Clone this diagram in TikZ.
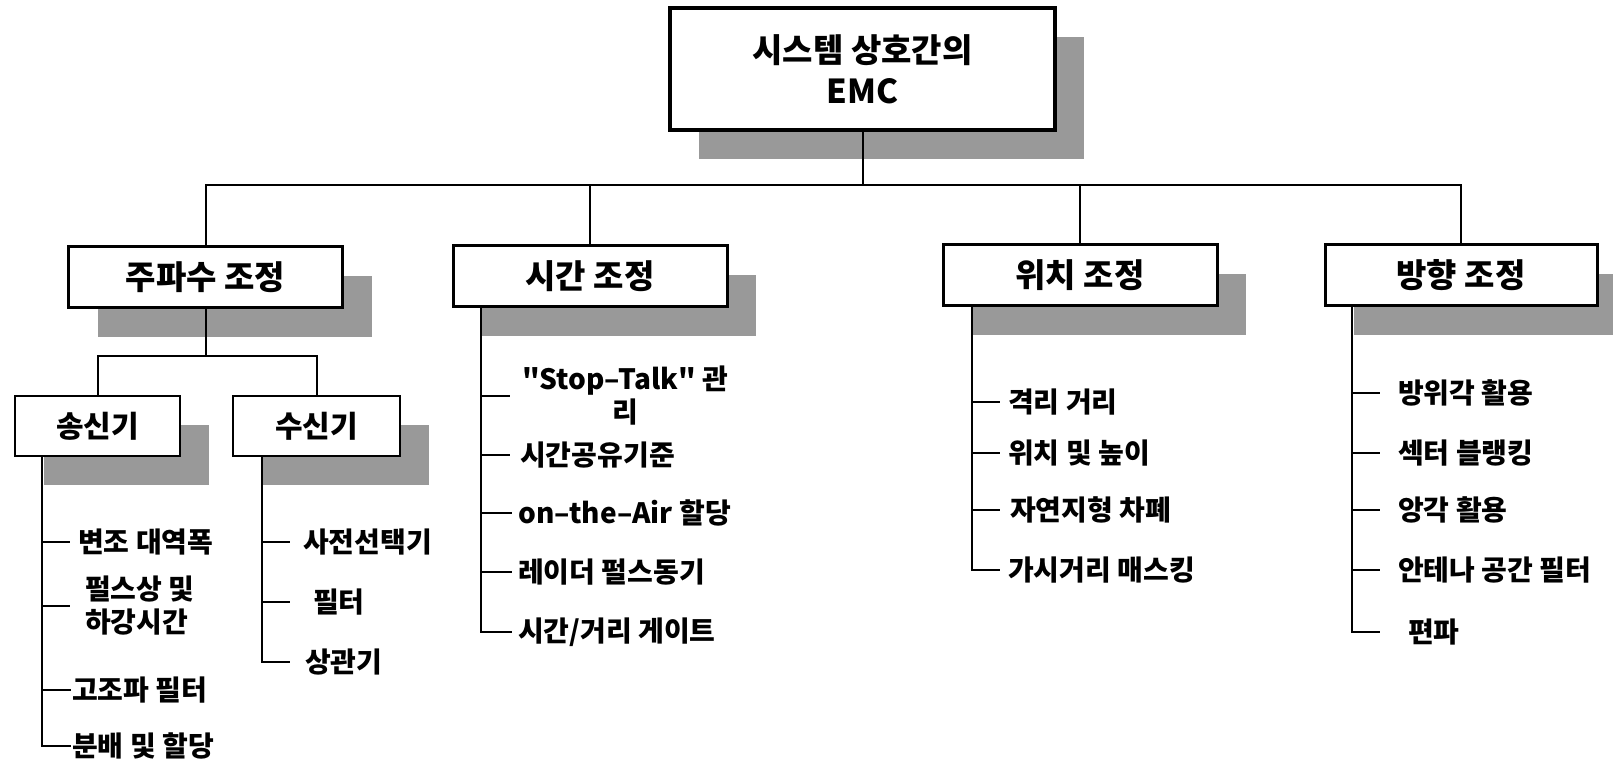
\documentclass[tikz,border=0pt]{standalone}
\usepackage{fontspec}
\setmainfont{Noto Sans CJK KR}[Ligatures=TeXOff]
\usetikzlibrary{shadows}
\definecolor{shadowgray}{gray}{0.6}
\begin{document}
\begin{tikzpicture}[x=1pt,y=-1pt,
  box/.style={draw=black, fill=white, line width=3pt, minimum width=274pt, minimum height=61pt,
    inner sep=0pt, font=\bfseries\fontsize{33}{38}\selectfont,
    drop shadow={shadow xshift=29pt,shadow yshift=-29pt,fill=shadowgray,opacity=1}},
  subbox/.style={box, line width=2.5pt, minimum height=60pt, font=\bfseries\fontsize{30}{35}\selectfont},
  leaf/.style={anchor=west, inner xsep=8pt, inner ysep=0pt, align=left,
    font=\bfseries\fontsize{28}{33}\selectfont},
  link/.style={line width=2pt}
]
\useasboundingbox (0,0) rectangle (1613,762);

% root
\node[box, line width=4pt, minimum width=385pt, minimum height=122pt, align=center,
  font=\bfseries\fontsize{33}{41}\selectfont] (root) at (862.5,69) {시스템 상호간의\\EMC};

% level 2
\node[box] (freq) at (205.5,277) {주파수 조정};
\node[box] (time) at (590,276) {시간 조정};
\node[box] (pos) at (1080,275) {위치 조정};
\node[box, minimum width=272pt] (dir) at (1461,275) {방향 조정};

% level 3
\node[subbox, minimum width=165pt] (tx) at (97.5,426) {송신기};
\node[subbox, minimum width=167pt] (rx) at (316.5,426) {수신기};

% bus
\coordinate (bus) at (862.5,185);
\draw[link] (root.south) -- (bus);
\draw[link] (freq.north) |- (dir.north |- bus) -- (dir.north);
\draw[link] (time.north) -- (time.north |- bus);
\draw[link] (pos.north) -- (pos.north |- bus);

\coordinate (sub) at (205.5,356);
\draw[link] (freq.south) -- (sub);
\draw[link] (tx.north) |- (sub) -| (rx.north);

% transmitter leaves
\node[leaf] (t1) at (70,542) {변조 대역폭};
\node[leaf, inner xsep=15pt] (t2) at (70,606) {펄스상 및\\하강시간};
\node[leaf, inner xsep=1pt] (t3) at (71,690) {고조파 필터};
\node[leaf, inner xsep=1pt] (t4) at (71,746) {분배 및 할당};
\coordinate (txk) at ([xshift=28pt]tx.south west);
\draw[link] (txk) |- (t4.west);
\foreach \n in {t1,t2,t3} \draw[link] (\n.west -| txk) -- (\n.west);

% receiver leaves
\node[leaf, inner xsep=13pt] (r1) at (290,542) {사전선택기};
\node[leaf, inner xsep=23pt] (r2) at (290,602) {필터};
\node[leaf, inner xsep=15pt] (r3) at (290,662) {상관기};
\coordinate (rxk) at ([xshift=30pt]rx.south west);
\draw[link] (rxk) |- (r3.west);
\foreach \n in {r1,r2} \draw[link] (\n.west -| rxk) -- (\n.west);

% time leaves
\node[leaf, inner xsep=12pt, align=center] (m1) at (510,396) {"Stop–Talk" 관\\리};
\node[leaf, inner xsep=10pt] (m2) at (510,455) {시간공유기준};
\node[leaf, inner xsep=6pt] (m3) at (512,513) {on–the–Air 할당};
\node[leaf, inner xsep=6pt] (m4) at (512,572) {레이더 펄스동기};
\node[leaf, inner xsep=6pt] (m5) at (512,632) {시간/거리 게이트};
\coordinate (tmk) at ([xshift=29pt]time.south west);
\draw[link] (tmk) |- (m5.west);
\foreach \n in {m1,m2,m3,m4} \draw[link] (\n.west -| tmk) -- (\n.west);

% position leaves
\node[leaf] (p1) at (1000,402) {격리 거리};
\node[leaf] (p2) at (1000,453) {위치 및 높이};
\node[leaf, inner xsep=10pt] (p3) at (1000,510) {자연지형 차폐};
\node[leaf] (p4) at (1000,570) {가시거리 매스킹};
\coordinate (psk) at ([xshift=30pt]pos.south west);
\draw[link] (psk) |- (p4.west);
\foreach \n in {p1,p2,p3} \draw[link] (\n.west -| psk) -- (\n.west);

% direction leaves
\node[leaf, inner xsep=18pt] (d1) at (1380,393) {방위각 활용};
\node[leaf, inner xsep=18pt] (d2) at (1380,453) {섹터 블랭킹};
\node[leaf, inner xsep=18pt] (d3) at (1380,510) {앙각 활용};
\node[leaf, inner xsep=18pt] (d4) at (1380,570) {안테나 공간 필터};
\node[leaf, inner xsep=28pt] (d5) at (1380,632) {편파};
\coordinate (drk) at ([xshift=28pt]dir.south west);
\draw[link] (drk) |- (d5.west);
\foreach \n in {d1,d2,d3,d4} \draw[link] (\n.west -| drk) -- (\n.west);
\end{tikzpicture}
\end{document}
